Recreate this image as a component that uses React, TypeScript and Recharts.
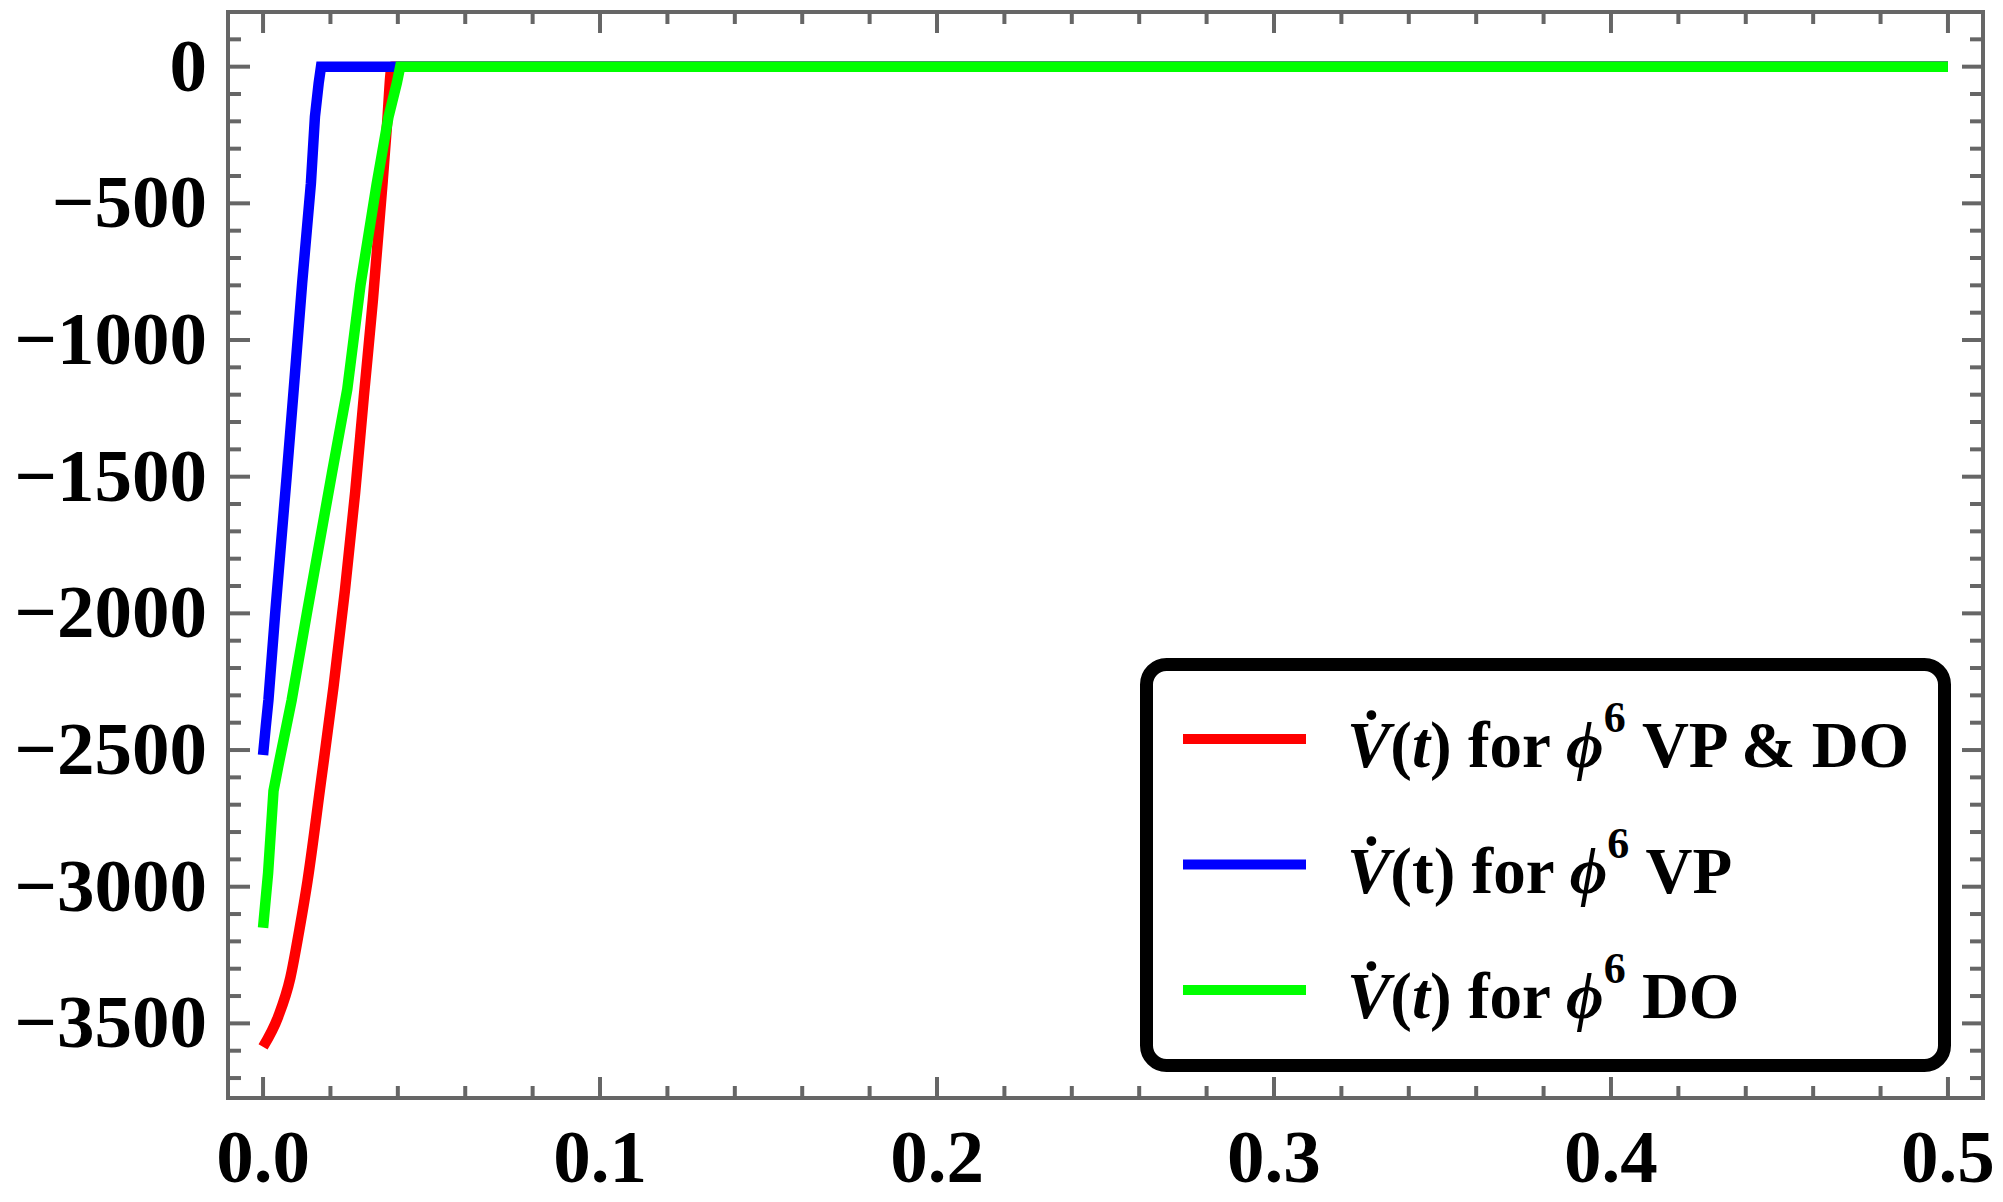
import React from "react";
import { LineChart, Line, XAxis, YAxis, Legend } from "recharts";

// axis ticks
const xMajor = [0, 0.1, 0.2, 0.3, 0.4, 0.5];
const yMajor = [0, -500, -1000, -1500, -2000, -2500, -3000, -3500];
const xTicks = [
  0, 0.02, 0.04, 0.06, 0.08, 0.1, 0.12, 0.14, 0.16, 0.18, 0.2, 0.22, 0.24,
  0.26, 0.28, 0.3, 0.32, 0.34, 0.36, 0.38, 0.4, 0.42, 0.44, 0.46, 0.48, 0.5,
];
const yTicks = Array.from({ length: 39 }, (_, i) => 100 - i * 100);

// series (t, value)
const redData = [
  { t: 0, v: -3586 },
  { t: 0.0045, v: -3475 },
  { t: 0.0081, v: -3333 },
  { t: 0.0108, v: -3156 },
  { t: 0.0132, v: -2979 },
  { t: 0.0171, v: -2624 },
  { t: 0.0209, v: -2270 },
  { t: 0.0243, v: -1916 },
  { t: 0.0273, v: -1562 },
  { t: 0.0299, v: -1208 },
  { t: 0.0326, v: -854 },
  { t: 0.0355, v: -420 },
  { t: 0.0368, v: -210 },
  { t: 0.0382, v: 0 },
  { t: 0.5, v: 0 },
];

const blueData = [
  { t: 0, v: -2518 },
  { t: 0.0008, v: -2415 },
  { t: 0.0016, v: -2317 },
  { t: 0.0036, v: -2000 },
  { t: 0.007, v: -1500 },
  { t: 0.0093, v: -1150 },
  { t: 0.0116, v: -793 },
  { t: 0.0142, v: -427 },
  { t: 0.0154, v: -183 },
  { t: 0.0165, v: -61 },
  { t: 0.0172, v: 0 },
  { t: 0.5, v: 0 },
];

const greenData = [
  { t: 0, v: -3150 },
  { t: 0.0015, v: -2950 },
  { t: 0.0031, v: -2650 },
  { t: 0.0045, v: -2560 },
  { t: 0.0085, v: -2317 },
  { t: 0.013, v: -2000 },
  { t: 0.0204, v: -1490 },
  { t: 0.025, v: -1180 },
  { t: 0.0289, v: -800 },
  { t: 0.0337, v: -430 },
  { t: 0.0372, v: -185 },
  { t: 0.0397, v: -60 },
  { t: 0.0407, v: 0 },
  { t: 0.5, v: 0 },
];

const seriesNames = ["V̇(t) for ϕ6 VP & DO", "V̇(t) for ϕ6 VP", "V̇(t) for ϕ6 DO"];
const seriesTags = ["VP & DO", "VP", "DO"];
const tItalic = [true, false, true];
const seriesColors = ["#ff0000", "#0000ff", "#00ff00"];

const FRAME = "#666666";
const SERIF = "'Liberation Serif', 'Times New Roman', serif";

const isMajor = (v: number, list: number[]) => list.some((m) => Math.abs(m - v) < 1e-9);

function BottomTick(props: any) {
  const { x, y, payload } = props;
  const major = isMajor(payload.value, xMajor);
  return (
    <g>
      <line x1={x} x2={x} y1={y} y2={y - (major ? 21 : 12)} stroke={FRAME} strokeWidth={4} />
      {major && (
        <text x={x} y={y + 84} textAnchor="middle" fontFamily={SERIF} fontWeight="bold" fontSize={75} fill="#000">
          {payload.value.toFixed(1)}
        </text>
      )}
    </g>
  );
}

function TopTick(props: any) {
  const { x, y, payload } = props;
  const major = isMajor(payload.value, xMajor);
  return <line x1={x} x2={x} y1={y} y2={y + (major ? 21 : 12)} stroke={FRAME} strokeWidth={4} />;
}

function LeftTick(props: any) {
  const { x, y, payload } = props;
  const major = isMajor(payload.value, yMajor);
  const v = payload.value;
  return (
    <g>
      <line x1={x} x2={x + (major ? 22 : 13)} y1={y} y2={y} stroke={FRAME} strokeWidth={4} />
      {major && (
        <text x={x - 21} y={y + 24} textAnchor="end" fontFamily={SERIF} fontWeight="bold" fontSize={75} fill="#000">
          {v === 0 ? "0" : "\u2212" + Math.abs(v)}
        </text>
      )}
    </g>
  );
}

function RightTick(props: any) {
  const { x, y, payload } = props;
  const major = isMajor(payload.value, yMajor);
  return <line x1={x} x2={x - (major ? 21 : 13)} y1={y} y2={y} stroke={FRAME} strokeWidth={4} />;
}

function LegendBox(props: any) {
  const payload = props.payload || [];
  return (
    <svg width={811} height={414} style={{ display: "block" }}>
      <rect x={6.5} y={6.5} width={798} height={401} rx={20} fill="#fff" stroke="#000" strokeWidth={13} />
      {payload.map((entry: any) => {
        const idx = seriesNames.indexOf(entry.value);
        const cy = 81 + 125.5 * idx;
        return (
          <g key={entry.value}>
            <line x1={43} x2={166} y1={cy} y2={cy} stroke={entry.color} strokeWidth={10} />
            <text x={207} y={cy + 28} fontFamily={SERIF} fontWeight="bold" fontSize={65} fill="#000">
              <tspan fontStyle="italic">{"V\u0307"}</tspan>
              <tspan>(</tspan>
              <tspan fontStyle={tItalic[idx] ? "italic" : "normal"}>t</tspan>
              <tspan>{") for "}</tspan>
              <tspan fontStyle="italic">{"\u03D5"}</tspan>
              <tspan dy={-35} fontSize={44}>6</tspan>
              <tspan dy={35}>{" " + seriesTags[idx]}</tspan>
            </text>
          </g>
        );
      })}
    </svg>
  );
}

const axisLine = { stroke: FRAME, strokeWidth: 4, strokeLinecap: "square" as const };

export default function App() {
  return (
    <div style={{ position: "absolute", left: 0, top: 0, width: 2003, height: 1202, background: "#fff" }}>
      <LineChart width={2003} height={1202} margin={{ top: 0, right: 0, bottom: 0, left: 0 }}>
        <XAxis
          xAxisId="b"
          orientation="bottom"
          type="number"
          dataKey="t"
          domain={[-0.0104, 0.5104]}
          allowDataOverflow
          ticks={xTicks}
          interval={0}
          tickSize={0}
          tickMargin={0}
          tickLine={false}
          axisLine={axisLine}
          tick={(p: any) => <BottomTick {...p} />}
          height={104}
        />
        <XAxis
          xAxisId="t"
          orientation="top"
          type="number"
          dataKey="t"
          domain={[-0.0104, 0.5104]}
          allowDataOverflow
          ticks={xTicks}
          interval={0}
          tickSize={0}
          tickMargin={0}
          tickLine={false}
          axisLine={axisLine}
          tick={(p: any) => <TopTick {...p} />}
          height={12}
        />
        <YAxis
          yAxisId="l"
          orientation="left"
          type="number"
          domain={[-3773, 200]}
          allowDataOverflow
          ticks={yTicks}
          interval={0}
          tickSize={0}
          tickMargin={0}
          tickLine={false}
          axisLine={axisLine}
          tick={(p: any) => <LeftTick {...p} />}
          width={228}
        />
        <YAxis
          yAxisId="r"
          orientation="right"
          type="number"
          domain={[-3773, 200]}
          allowDataOverflow
          ticks={yTicks}
          interval={0}
          tickSize={0}
          tickMargin={0}
          tickLine={false}
          axisLine={axisLine}
          tick={(p: any) => <RightTick {...p} />}
          width={20}
        />
        <Legend
          layout="vertical"
          align="center"
          verticalAlign="middle"
          content={(p: any) => <LegendBox {...p} />}
          wrapperStyle={{ left: 1140, top: 658, width: 811, height: 414 }}
        />
        <Line
          xAxisId="b"
          yAxisId="l"
          data={redData}
          dataKey="v"
          name={seriesNames[0]}
          type="monotone"
          stroke={seriesColors[0]}
          strokeWidth={10.5}
          dot={false}
          isAnimationActive={false}
        />
        <Line
          xAxisId="b"
          yAxisId="l"
          data={blueData}
          dataKey="v"
          name={seriesNames[1]}
          type="linear"
          stroke={seriesColors[1]}
          strokeWidth={10.5}
          dot={false}
          isAnimationActive={false}
        />
        <Line
          xAxisId="b"
          yAxisId="l"
          data={greenData}
          dataKey="v"
          name={seriesNames[2]}
          type="linear"
          stroke={seriesColors[2]}
          strokeWidth={10.5}
          dot={false}
          isAnimationActive={false}
        />
      </LineChart>
    </div>
  );
}
